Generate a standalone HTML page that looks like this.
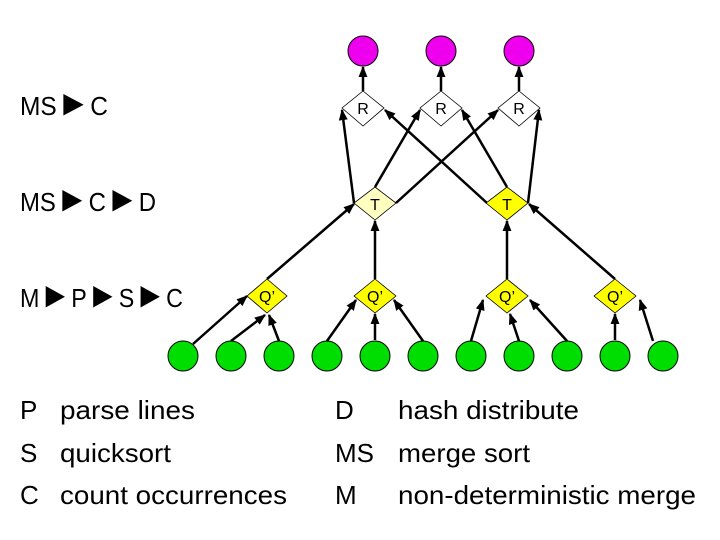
<!DOCTYPE html>
<html><head><meta charset="utf-8"><style>
html,body{margin:0;padding:0;background:#fff;}
svg{display:block;}
text{font-family:"Liberation Sans",Arial,sans-serif;fill:#000;}
</style></head><body>
<svg width="720" height="540" viewBox="0 0 720 540" xmlns="http://www.w3.org/2000/svg">
<defs>
<marker id="a" viewBox="0 0 10 10" refX="9" refY="5" markerWidth="4.5" markerHeight="4.5" orient="auto" markerUnits="strokeWidth">
<path d="M0,1 L10,5 L0,9 z" fill="#000"/></marker>
</defs>
<g font-size="26">
<text x="20" y="115" textLength="88" lengthAdjust="spacingAndGlyphs">MS<tspan font-size="36">►</tspan>C</text>
<text x="20" y="211" textLength="136" lengthAdjust="spacingAndGlyphs">MS<tspan font-size="36">►</tspan>C<tspan font-size="36">►</tspan>D</text>
<text x="20" y="307" textLength="163" lengthAdjust="spacingAndGlyphs">M<tspan font-size="36">►</tspan>P<tspan font-size="36">►</tspan>S<tspan font-size="36">►</tspan>C</text>
<text x="20" y="419">P</text><text x="60" y="419" textLength="135" lengthAdjust="spacingAndGlyphs">parse lines</text>
<text x="20" y="462">S</text><text x="60" y="462" textLength="111" lengthAdjust="spacingAndGlyphs">quicksort</text>
<text x="20" y="504">C</text><text x="60" y="504" textLength="227" lengthAdjust="spacingAndGlyphs">count occurrences</text>
<text x="335" y="419">D</text><text x="398" y="419" textLength="181" lengthAdjust="spacingAndGlyphs">hash distribute</text>
<text x="335" y="462">MS</text><text x="398" y="462" textLength="132" lengthAdjust="spacingAndGlyphs">merge sort</text>
<text x="335" y="504">M</text><text x="398" y="504" textLength="298" lengthAdjust="spacingAndGlyphs">non-deterministic merge</text>
</g>
<g stroke="#000" stroke-width="2.5" marker-end="url(#a)" fill="none">
<line x1="363" y1="91" x2="363" y2="67"/>
<line x1="441" y1="91" x2="441" y2="67"/>
<line x1="519" y1="91" x2="519" y2="67"/>
<line x1="354" y1="203" x2="342" y2="110"/>
<line x1="375" y1="187" x2="420" y2="110"/>
<line x1="396" y1="203" x2="498" y2="110"/>
<line x1="487" y1="203" x2="385" y2="110"/>
<line x1="507" y1="187" x2="462" y2="110"/>
<line x1="528" y1="203" x2="539" y2="110"/>
<line x1="267" y1="279" x2="354" y2="204"/>
<line x1="375" y1="279" x2="375" y2="221"/>
<line x1="507" y1="279" x2="507" y2="221"/>
<line x1="615" y1="279" x2="529" y2="204"/>
<line x1="193" y1="344" x2="247" y2="296"/>
<line x1="231" y1="341" x2="265" y2="315"/>
<line x1="279" y1="341" x2="269" y2="315"/>
<line x1="327" y1="341" x2="356" y2="300"/>
<line x1="375" y1="340" x2="375" y2="314"/>
<line x1="423" y1="341" x2="394" y2="300"/>
<line x1="471" y1="341" x2="483" y2="300"/>
<line x1="519" y1="341" x2="510" y2="314"/>
<line x1="567" y1="341" x2="530" y2="300"/>
<line x1="615" y1="340" x2="615" y2="314"/>
<line x1="653" y1="341" x2="640" y2="300"/>
</g>
<g stroke="#000" stroke-width="1">
<circle cx="363" cy="51" r="15" fill="#ee00ee"/>
<circle cx="441" cy="51" r="15" fill="#ee00ee"/>
<circle cx="519" cy="51" r="15" fill="#ee00ee"/>
<g fill="#00dd00">
<circle cx="183" cy="356" r="15"/><circle cx="231" cy="356" r="15"/><circle cx="279" cy="356" r="15"/>
<circle cx="327" cy="356" r="15"/><circle cx="375" cy="356" r="15"/><circle cx="423" cy="356" r="15"/>
<circle cx="471" cy="356" r="15"/><circle cx="519" cy="356" r="15"/><circle cx="567" cy="356" r="15"/>
<circle cx="615" cy="356" r="15"/><circle cx="663" cy="356" r="15"/>
</g>
<g fill="#fff" stroke-width="0.8">
<polygon points="363,91 384,108 363,126 342,108"/>
<polygon points="441,91 462,108 441,126 420,108"/>
<polygon points="519,91 540,108 519,126 498,108"/>
</g>
<polygon points="375,187 396,203 375,220 354,203" fill="#ffffc0" stroke-width="0.8"/>
<polygon points="507,187 528,203 507,220 486,203" fill="#ffff00" stroke-width="0.8"/>
<g fill="#ffff00" stroke-width="0.8">
<polygon points="267,279 287,296 267,313 247,296"/>
<polygon points="375,279 396,296 375,313 354,296"/>
<polygon points="507,279 528,296 507,313 486,296"/>
<polygon points="615,279 636,296 615,313 594,296"/>
</g>
</g>
<g font-size="16" text-anchor="middle">
<text x="363" y="114">R</text><text x="441" y="114">R</text><text x="519" y="114">R</text>
<text x="375" y="210">T</text><text x="507" y="210">T</text>
<text x="267" y="302">Q’</text><text x="375" y="302">Q’</text><text x="507" y="302">Q’</text><text x="615" y="302">Q’</text>
</g>
</svg>
</body></html>
